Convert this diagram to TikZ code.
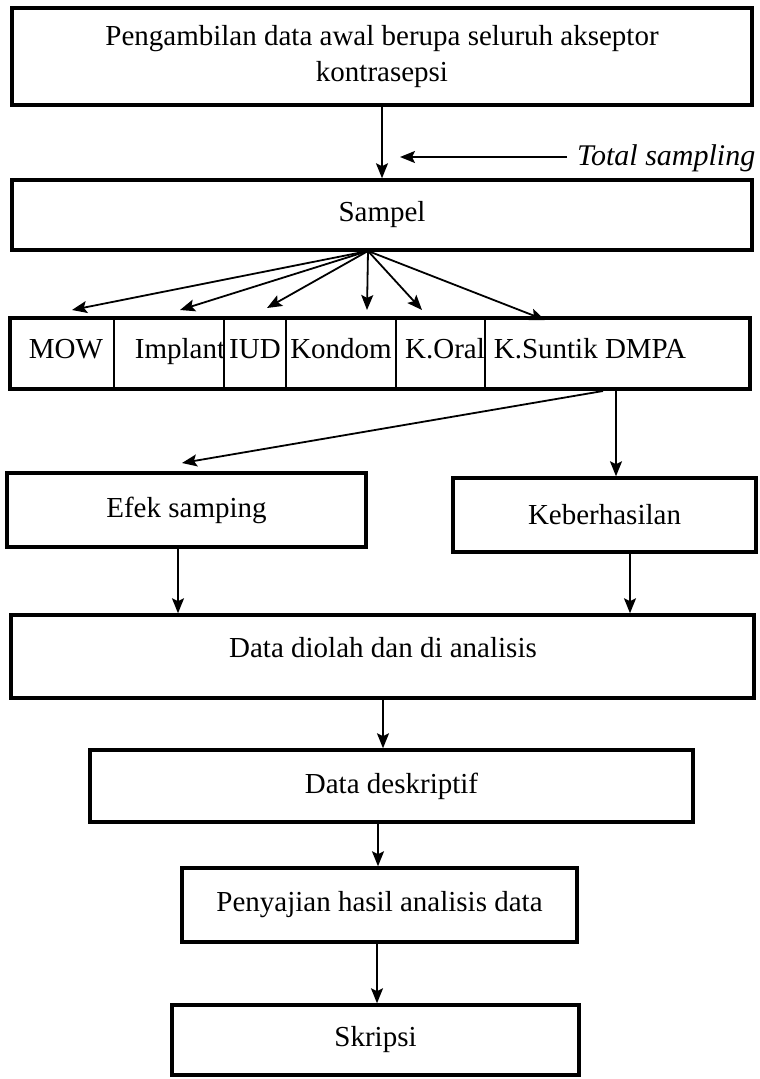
\documentclass[tikz,border=0pt]{standalone}
\usepackage{fontspec}
\setmainfont{Liberation Serif}
\usetikzlibrary{arrows.meta}
\begin{document}
\begin{tikzpicture}[x=1pt,y=-1pt,
  box/.style={draw=black,line width=3.5pt,rectangle,inner sep=0pt,align=center,
    font=\fontsize{29}{36}\selectfont},
  txt/.style={inner sep=0pt,font=\fontsize{29}{36}\selectfont},
  arr/.style={line width=1.8pt,-{Stealth[length=15pt,width=12pt,inset=3pt]}},
  divider/.style={line width=2pt}]
\useasboundingbox (0,0) rectangle (760,1079);
\fill[white] (0,0) rectangle (760,1079);
% boxes
\node[box,minimum width=740,minimum height=97] (awal) at (382,56.5)
  {Pengambilan data awal berupa seluruh akseptor\\kontrasepsi};
\node[box,minimum width=740,minimum height=70] (sampel) at (382,215) {Sampel};
\node[box,minimum width=740,minimum height=71] (row) at (380,353.5) {};
\foreach \x in {114,224,286,396,485}
  \draw[divider] (\x,318) -- (\x,389);
\node[txt,anchor=base] (mow) at (66,358) {MOW};
\node[txt,anchor=base] (implant) at (180,358) {Implant};
\node[txt,anchor=base] (iud) at (255,358) {IUD};
\node[txt,anchor=base] (kondom) at (341,358) {Kondom};
\node[txt,anchor=base] (koral) at (445,358) {K.Oral};
\node[txt,anchor=base] (ksuntik) at (590,358) {K.Suntik DMPA};
\node[box,minimum width=359,minimum height=74] (efek) at (186.5,510) {Efek samping};
\node[box,minimum width=303,minimum height=74] (hasil) at (604.5,515) {Keberhasilan};
\node[box,minimum width=743,minimum height=83] (olah) at (382.5,656.5) {};
\node[txt,anchor=base] (olahtxt) at (383,657) {Data diolah dan di analisis};
\node[box,minimum width=603,minimum height=72] (desk) at (391.5,786) {Data deskriptif};
\node[box,minimum width=395,minimum height=74] (saji) at (379.5,905) {Penyajian hasil analisis data};
\node[box,minimum width=407,minimum height=70] (skripsi) at (375.5,1040) {Skripsi};
\node[txt,anchor=west,font=\fontsize{30}{36}\selectfont\itshape] (total) at (577,158) {Total sampling};
% coordinates
\coordinate (fan) at (368,251);
\coordinate (eMOW) at (72,310);
\coordinate (eImp) at (180,310);
\coordinate (eIUD) at (267,308);
\coordinate (eKon) at (367,310);
\coordinate (eKOr) at (422,310);
\coordinate (eKSu) at (545,320);
\coordinate (rowsrc) at (603,391);
\coordinate (tsStart) at (567,157);
\coordinate (tsEnd) at (400,157);
% connectors
\draw[arr] (awal.south -| 382,0) -- (sampel.north -| 382,0);
\draw[arr] (tsStart) -- (tsEnd);
\foreach \e in {eMOW,eImp,eIUD,eKon,eKOr,eKSu}
  \draw[arr] (fan) -- (\e);
\draw[arr] (rowsrc) -- (182,463);
\draw[arr] (616,391) -- (hasil.north -| 616,0);
\draw[arr] (efek.south -| 178,0) -- (olah.north -| 178,0);
\draw[arr] (hasil.south -| 630,0) -- (olah.north -| 630,0);
\draw[arr] (olah.south -| 383,0) -- (desk.north -| 383,0);
\draw[arr] (desk.south -| 378,0) -- (saji.north -| 378,0);
\draw[arr] (saji.south -| 377,0) -- (skripsi.north -| 377,0);
\end{tikzpicture}
\end{document}
